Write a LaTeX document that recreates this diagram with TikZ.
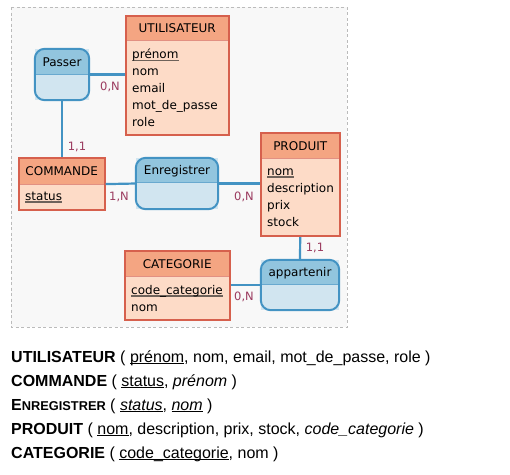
\documentclass[tikz,border=0pt]{standalone}
\usepackage{fontspec}
\setmainfont{Liberation Sans}
\newfontfamily\diagfont{DejaVu Sans}
\usetikzlibrary{positioning,fit}

\definecolor{enthead}{HTML}{F4A582}
\definecolor{entbody}{HTML}{FDDBC7}
\definecolor{entline}{HTML}{D6604D}
\definecolor{asshead}{HTML}{92C5DE}
\definecolor{assbody}{HTML}{D1E5F0}
\definecolor{assline}{HTML}{4393C3}
\definecolor{cardcol}{HTML}{9B3B5F}
\definecolor{boxfill}{HTML}{F8F8F8}
\definecolor{boxline}{HTML}{BBBBBB}
\definecolor{keyline}{HTML}{6E625A}

% cle primaire dans le schema / dans le texte
\newcommand{\pk}[1]{\setbox0=\hbox{#1}\rlap{\color{keyline}\rule[-2.5pt]{\wd0}{1.3pt}}\box0}
\newcommand{\ulk}[1]{\setbox0=\hbox{#1}\rlap{\rule[-2pt]{\wd0}{0.9pt}}\box0}

\begin{document}
\begin{tikzpicture}[x=1pt,y=-1pt,
            font=\diagfont\fontsize{12}{17}\selectfont,
            enthead/.style={fill=enthead, inner sep=0pt, minimum height=#1},
            entbody/.style={fill=entbody, draw=entline!70, line width=0.8pt, inner xsep=6pt, inner ysep=0pt, align=left, minimum height=#1},
            entframe/.style={draw=entline, line width=2pt, inner sep=0pt},
            assoc/.style={fill=assbody, inner sep=0pt},
            link/.style={draw=assline, line width=2.2pt},
            card/.style={text=cardcol, font=\diagfont\fontsize{11.5}{12}\selectfont, inner sep=0pt}
            ]
            \useasboundingbox (0,0) rectangle (510,474);
            \draw[boxline, fill=boxfill, line width=1pt, dash pattern=on 3pt off 2.5pt] (11,7) rectangle (347,327);

            % entites
            \node[enthead=24pt, minimum width=102pt, anchor=north west] (utilH) at (126,16) {UTILISATEUR};
            \node[entbody=94pt, text width=90pt, below=0pt of utilH] (utilB) {\pk{prénom}\\nom\\email\\mot\_de\_passe\\role};
            \node[entframe, fit=(utilH)(utilB)] (util) {};

            \node[enthead=26pt, minimum width=85pt, anchor=north west] (cmdH) at (19,158) {COMMANDE};
            \node[entbody=25pt, text width=73pt, below=0pt of cmdH] (cmdB) {\pk{status}};
            \node[entframe, fit=(cmdH)(cmdB)] (cmd) {};

            \node[enthead=25pt, minimum width=78pt, anchor=north west] (prodH) at (261,133) {PRODUIT};
            \node[entbody=77pt, text width=66pt, below=0pt of prodH] (prodB) {\pk{nom}\\description\\prix\\stock};
            \node[entframe, fit=(prodH)(prodB)] (prod) {};

            \node[enthead=25pt, minimum width=104pt, anchor=north west] (catH) at (125,251) {CATEGORIE};
            \node[entbody=43pt, text width=92pt, below=0pt of catH] (catB) {\pk{code\_categorie}\\nom};
            \node[entframe, fit=(catH)(catB)] (cat) {};

            % associations
            \node[assoc, minimum width=54pt, minimum height=51pt] (passer) at (62,74.5) {};
            \node[assoc, minimum width=82pt, minimum height=51pt] (enreg) at (177,183.5) {};
            \node[assoc, minimum width=78pt, minimum height=50pt] (appart) at (300,285) {};
            \foreach \a/\h in {passer/26, enreg/25, appart/25}{
                \begin{scope}
                    \clip[rounded corners=10pt] (\a.north west) rectangle (\a.south east);
                    \fill[asshead] (\a.north west) rectangle ([yshift=-\h pt]\a.north east);
                    \draw[assline!80, line width=0.8pt] ([yshift=-\h pt]\a.north west) -- ([yshift=-\h pt]\a.north east);
                \end{scope}
                \draw[assline, line width=2pt, rounded corners=10pt] (\a.north west) rectangle (\a.south east);
            }
            \node (passerL) at (62,62) {Passer};
            \node (enregL) at (177,171) {Enregistrer};
            \node (appartL) at (300,273) {appartenir};

            % liens
            \draw[link] (passer.east) -- (passer.east -| util.west);
            \draw[link] (passer.south) -- (passer.south |- cmd.north);
            \draw[link] (cmd.east) -- (enreg.west);
            \draw[link] (enreg.east) -- (enreg.east -| prod.west);
            \draw[link] (prod.south) -- (appart.north);
            \draw[link] (appart.west) -- (appart.west -| cat.east);

            \node[card] (cardA) at (110,87) {0,N};
            \node[card] (cardB) at (77,147) {1,1};
            \node[card] (cardC) at (119,197) {1,N};
            \node[card] (cardD) at (244,197) {0,N};
            \node[card] (cardE) at (315,248) {1,1};
            \node[card] (cardF) at (244,297) {0,N};

            % schema relationnel
            \begin{scope}[every node/.style={anchor=base west, inner sep=0pt, font=\rmfamily\fontsize{16}{18}\selectfont}]
                \node (relUtil) at (11,362) {\textbf{UTILISATEUR} ( \ulk{prénom}, nom, email, mot\_de\_passe, role )};
                \node (relCmd) at (11,386) {\textbf{COMMANDE} ( \ulk{status}, \textit{prénom} )};
                \node (relEnreg) at (11,410) {\textbf{E{\fontsize{12.8}{12}\selectfont NREGISTRER}} ( \ulk{\textit{status}}, \ulk{\textit{nom}}~)};
                \node (relProd) at (11,434) {\textbf{PRODUIT} ( \ulk{nom}, description, prix, stock, \textit{code\_categorie} )};
                \node (relCat) at (11,458) {\textbf{CATEGORIE} ( \ulk{code\_categorie}, nom )};
            \end{scope}
            \end{tikzpicture}
\end{document}
